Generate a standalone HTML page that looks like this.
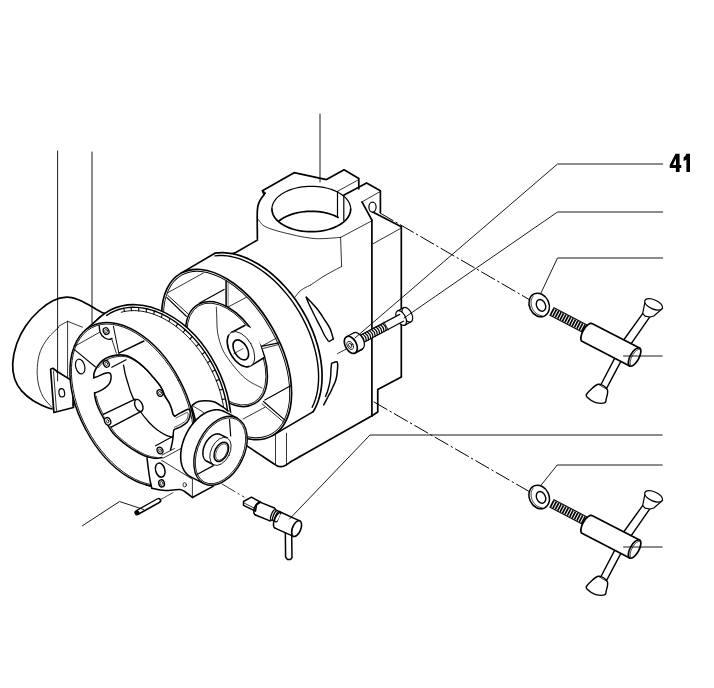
<!DOCTYPE html>
<html><head><meta charset="utf-8"><style>
html,body{margin:0;padding:0;background:#fff;width:714px;height:688px;overflow:hidden}
svg{display:block}

</style></head><body>
<svg width="714" height="688" viewBox="0 0 714 688" stroke-linecap="round" stroke-linejoin="round">
<rect width="714" height="688" fill="#fff"/>
<path d="M262.4,190.7 L294.1,172.7 L326.5,179.6 L344.1,169.8 L358.8,178.6 L358.8,188.8" stroke="#000" stroke-width="1.7" fill="none" />
<line x1="337.5" y1="191.3" x2="358.8" y2="179.6" stroke="#000" stroke-width="0.8" />
<line x1="337.5" y1="191.3" x2="337.5" y2="217.2" stroke="#000" stroke-width="1.2" />
<line x1="343.8" y1="196.4" x2="343.8" y2="220.3" stroke="#000" stroke-width="1.2" />
<path d="M343.7,195.3 L366.6,182.9 L380.4,190.7 L380.4,212.3" stroke="#000" stroke-width="1.7" fill="none" />
<line x1="362" y1="201.9" x2="380.4" y2="191.4" stroke="#000" stroke-width="0.8" />
<line x1="362" y1="201.9" x2="371.9" y2="220.2" stroke="#000" stroke-width="1.7" />
<ellipse cx="372.5" cy="207.1" rx="3.6" ry="5" stroke="#000" stroke-width="1.2" fill="none" />
<path d="M271.9,209 L272.02,207.22 L272.39,205.45 L272.99,203.7 L273.83,201.99 L274.9,200.31 L276.19,198.69 L277.71,197.14 L279.42,195.66 L281.34,194.26 L283.44,192.95 L285.71,191.74 L288.14,190.64 L290.71,189.65 L293.41,188.77 L296.22,188.03 L299.12,187.41 L302.1,186.93 L305.14,186.58 L308.21,186.37 L311.3,186.3 L314.39,186.37 L317.46,186.58 L320.5,186.93 L323.48,187.41 L326.38,188.03 L329.19,188.77 L331.89,189.65 L334.46,190.64 L336.89,191.74 L339.16,192.95 L341.26,194.26 L343.18,195.66 L344.89,197.14 L346.41,198.69 L347.7,200.31 L348.77,201.99 L349.61,203.7 L350.21,205.45 L350.58,207.22 L350.7,209" stroke="#000" stroke-width="1.2" fill="none" />
<path d="M350.7,209 L350.58,210.78 L350.21,212.55 L349.61,214.3 L348.77,216.01 L347.7,217.69 L346.41,219.31 L344.89,220.86 L343.18,222.34 L341.26,223.74 L339.16,225.05 L336.89,226.26 L334.46,227.36 L331.89,228.35 L329.19,229.23 L326.38,229.97 L323.48,230.59 L320.5,231.07 L317.46,231.42 L314.39,231.63 L311.3,231.7 L308.21,231.63 L305.14,231.42 L302.1,231.07 L299.12,230.59 L296.22,229.97 L293.41,229.23 L290.71,228.35 L288.14,227.36 L285.71,226.26 L283.44,225.05 L281.34,223.74 L279.42,222.34 L277.71,220.86 L276.19,219.31 L274.9,217.69 L273.83,216.01 L272.99,214.3 L272.39,212.55 L272.02,210.78 L271.9,209" stroke="#000" stroke-width="1.7" fill="none" />
<path d="M278.64,221.31 L279.62,220.51 L280.66,219.73 L281.76,218.98 L282.91,218.26 L284.12,217.57 L285.37,216.91 L286.68,216.28 L288.03,215.68 L289.42,215.12 L290.86,214.59 L292.33,214.1 L293.84,213.65 L295.38,213.23 L296.96,212.86 L298.55,212.52 L300.18,212.22 L301.82,211.97 L303.48,211.75 L305.15,211.58 L306.84,211.45 L308.53,211.36 L310.23,211.31 L311.94,211.3 L313.64,211.34 L315.33,211.42 L317.02,211.54 L318.7,211.7 L320.36,211.91 L322.01,212.15 L323.64,212.44 L325.24,212.77 L326.82,213.14 L328.37,213.54 L329.89,213.99 L331.37,214.47 L332.82,214.98 L334.22,215.54 L335.58,216.12 L336.9,216.75 L338.17,217.4" stroke="#000" stroke-width="1.7" fill="none" />
<path d="M262.4,190.7 L265.7,192.9 L264,195.3 Z" stroke="#000" stroke-width="1" fill="#000" />
<path d="M263.6,195.3 C263.08,196.03 261.38,198.17 260.5,199.7 C259.62,201.23 258.82,202.78 258.3,204.5 C257.78,206.22 257.58,207.42 257.4,210 C257.22,212.58 257.2,215.27 257.2,220 C257.2,224.73 257.37,235.33 257.4,238.4" stroke="#000" stroke-width="1.7" fill="none" />
<path d="M257.5,240 L235.75,252.5 L230.5,254" stroke="#000" stroke-width="1.7" fill="none" />
<path d="M258,219 C259.33,220.33 260.63,224.47 266,227 C271.37,229.53 281.97,232.27 290.2,234.2 C298.43,236.13 307,238.07 315.4,238.6 C323.8,239.13 336.4,237.6 340.6,237.4" stroke="#000" stroke-width="0.8" fill="none" />
<line x1="340.6" y1="237.4" x2="371.9" y2="220.8" stroke="#000" stroke-width="0.8" />
<line x1="340.6" y1="237.4" x2="341.6" y2="266.5" stroke="#000" stroke-width="0.8" />
<path d="M341.6,266.5 C338.83,268 330.15,272.42 325,275.5 C319.85,278.58 313.08,283.42 310.7,285" stroke="#000" stroke-width="0.8" fill="none" />
<line x1="373.2" y1="212.3" x2="401.3" y2="226.7" stroke="#000" stroke-width="1.7" />
<line x1="371.9" y1="220.2" x2="371.9" y2="415.75" stroke="#000" stroke-width="1.7" />
<line x1="401.3" y1="226.7" x2="401.3" y2="377" stroke="#000" stroke-width="1.7" />
<line x1="373.2" y1="243.7" x2="401.3" y2="228" stroke="#000" stroke-width="0.8" />
<path d="M401.3,377 L377.75,389.5 L377.75,412 L372,415.75" stroke="#000" stroke-width="1.7" fill="none" />
<path d="M245,444.6 C247.5,446.27 254.98,451.27 260,454.6 C265.02,457.93 271.98,462.63 275.1,464.6 C278.22,466.57 277.18,466.17 278.7,466.4 C280.22,466.63 281.98,466.9 284.2,466 C286.42,465.1 289.37,462.6 292,461 C294.63,459.4 298.67,457.17 300,456.4" stroke="#000" stroke-width="1.7" fill="none" />
<line x1="300" y1="456.4" x2="372" y2="415.75" stroke="#000" stroke-width="1.7" />
<line x1="275.5" y1="434.6" x2="275.5" y2="464.6" stroke="#000" stroke-width="0.8" />
<line x1="286.5" y1="433.2" x2="286.5" y2="465.5" stroke="#000" stroke-width="0.8" />
<path d="M306.3,297.2 C307.08,298 309.38,300.27 311,302 C312.62,303.73 314.42,305.68 316,307.6 C317.58,309.52 319.07,311.47 320.5,313.5 C321.93,315.53 323.35,317.88 324.6,319.8 C325.85,321.72 326.98,323.25 328,325 C329.02,326.75 329.82,327.97 330.7,330.3 C331.58,332.63 332.87,337.55 333.3,339" stroke="#000" stroke-width="1.5" fill="none" />
<path d="M306.3,297.2 C306.58,298 307.27,300.27 308,302 C308.73,303.73 309.7,305.52 310.7,307.6 C311.7,309.68 312.85,312.17 314,314.5 C315.15,316.83 316.35,319.18 317.6,321.6 C318.85,324.02 320.33,326.68 321.5,329 C322.67,331.32 323.5,333.55 324.6,335.5 C325.7,337.45 327.52,339.83 328.1,340.7" stroke="#000" stroke-width="1.4" fill="none" />
<line x1="333.3" y1="339" x2="329" y2="341.6" stroke="#000" stroke-width="1.4" />
<path d="M331.6,363.4 C332.47,363.12 335.78,361.42 336.8,361.7 C337.82,361.98 337.6,363.72 337.7,365.1 C337.8,366.48 337.55,368.25 337.4,370 C337.25,371.75 337.12,373.77 336.8,375.6 C336.48,377.43 336.08,379.27 335.5,381 C334.92,382.73 334.08,384.25 333.3,386 C332.52,387.75 331.67,389.75 330.8,391.5 C329.93,393.25 329.28,394.27 328.1,396.5 C326.92,398.73 324.43,403.5 323.7,404.9" stroke="#000" stroke-width="1.5" fill="none" />
<path d="M331.6,363.4 C331.5,364.33 331.15,366.97 331,369 C330.85,371.03 330.87,373.6 330.7,375.6 C330.53,377.6 330.28,379.27 330,381 C329.72,382.73 329.42,384.25 329,386 C328.58,387.75 328.08,389.75 327.5,391.5 C326.92,393.25 325.83,395.67 325.5,396.5" stroke="#000" stroke-width="1.4" fill="none" />
<path d="M295,297.2 C295.67,296.33 297.55,293.45 299,292 C300.45,290.55 301.75,289.67 303.7,288.5 C305.65,287.33 309.53,285.58 310.7,285" stroke="#000" stroke-width="0.8" fill="none" />
<ellipse cx="249.6" cy="342.1" rx="61.6" ry="97.2" transform="rotate(-30.5 249.6 342.1)" stroke="none" stroke-width="0" fill="#fff" />
<path d="M180.71,273.38 L214.94,253.22 L313.2,411.64 L272.49,435.62 Z" stroke="none" stroke-width="0" fill="#fff" />
<path d="M214.94,253.22 L217,252.96 L219.1,252.79 L221.22,252.71 L223.38,252.72 L225.56,252.83 L227.77,253.03 L230,253.32 L232.25,253.71 L234.52,254.18 L236.8,254.74 L239.1,255.4 L241.4,256.14 L243.72,256.98 L246.04,257.9 L248.37,258.9 L250.7,260 L253.02,261.17 L255.34,262.44 L257.66,263.78 L259.97,265.2 L262.27,266.71 L264.55,268.29 L266.82,269.94 L269.07,271.68 L271.3,273.48 L273.51,275.36 L275.69,277.3 L277.85,279.31 L279.98,281.39 L282.08,283.53 L284.14,285.72 L286.17,287.98 L288.16,290.29 L290.11,292.66 L292.02,295.08 L293.88,297.54 L295.7,300.05 L297.47,302.61 L299.19,305.2 L300.86,307.84 L302.48,310.51 L304.04,313.21 L305.55,315.94 L307,318.7 L308.39,321.48 L309.72,324.28 L310.99,327.1 L312.19,329.94 L313.33,332.79 L314.41,335.65 L315.42,338.52 L316.36,341.39 L317.23,344.26 L318.03,347.13 L318.76,349.99 L319.42,352.85 L320,355.69 L320.52,358.52 L320.96,361.33 L321.33,364.13 L321.62,366.9 L321.84,369.64 L321.98,372.36 L322.06,375.04 L322.05,377.7 L321.97,380.31 L321.82,382.89 L321.59,385.42 L321.29,387.91 L320.91,390.35 L320.46,392.74 L319.94,395.08 L319.34,397.36 L318.67,399.59 L317.94,401.76 L317.13,403.87 L316.25,405.91 L315.3,407.89 L314.28,409.8 L313.2,411.64" stroke="#000" stroke-width="1.7" fill="none" />
<line x1="180.71" y1="273.38" x2="214.94" y2="253.22" stroke="#000" stroke-width="1.7" />
<line x1="272.49" y1="435.62" x2="313.2" y2="411.64" stroke="#000" stroke-width="1.7" />
<ellipse cx="226.6" cy="354.5" rx="52.9" ry="93.2" transform="rotate(-29.5 226.6 354.5)" stroke="#000" stroke-width="1.7" fill="#fff" />
<path d="M214.97,255.83 L218.9,255.51 L222.94,255.52 L227.08,255.87 L231.3,256.56 L235.59,257.59 L239.92,258.95 L244.29,260.63 L248.68,262.63 L253.06,264.95 L257.43,267.56 L261.76,270.47 L266.03,273.66 L270.24,277.12 L274.37,280.84 L278.39,284.79 L282.29,288.97 L286.06,293.36 L289.69,297.94 L293.15,302.7 L296.44,307.61 L299.54,312.66 L302.45,317.82 L305.14,323.09 L307.61,328.42 L309.85,333.82 L311.85,339.25 L313.6,344.69 L315.1,350.12 L316.34,355.53 L317.31,360.88 L318.02,366.17 L318.45,371.36 L318.61,376.44 L318.5,381.39 L318.12,386.19 L317.46,390.82 L316.53,395.26 L315.34,399.5 L313.89,403.52 L312.18,407.3" stroke="#000" stroke-width="1.4" fill="none" />
<ellipse cx="226.6" cy="354.5" rx="50.9" ry="91.2" transform="rotate(-29.5 226.6 354.5)" stroke="#000" stroke-width="0.9" fill="#fff" />
<line x1="226.1" y1="281" x2="226.1" y2="306" stroke="#000" stroke-width="1.5" />
<line x1="228.1" y1="281.5" x2="228.1" y2="306.5" stroke="#555" stroke-width="0.8" />
<line x1="199.2" y1="303.2" x2="224.1" y2="289.4" stroke="#000" stroke-width="1.2" />
<line x1="167.8" y1="292.7" x2="203.2" y2="273.1" stroke="#000" stroke-width="0.8" />
<line x1="166.7" y1="297.4" x2="186.3" y2="316.3" stroke="#000" stroke-width="1.2" />
<line x1="167.8" y1="295.4" x2="188" y2="313.8" stroke="#000" stroke-width="0.9" />
<line x1="228" y1="307.1" x2="246.3" y2="297.3" stroke="#000" stroke-width="0.8" />
<line x1="261.4" y1="346.3" x2="278.8" y2="342.8" stroke="#000" stroke-width="1.2" />
<line x1="262.6" y1="348.6" x2="278.8" y2="344.5" stroke="#000" stroke-width="0.8" />
<line x1="261.4" y1="346.3" x2="276.5" y2="338.1" stroke="#000" stroke-width="0.8" />
<line x1="263.4" y1="401.5" x2="285.2" y2="420.4" stroke="#000" stroke-width="1.2" />
<line x1="262" y1="403.7" x2="283.8" y2="422.2" stroke="#000" stroke-width="0.8" />
<line x1="264.9" y1="400" x2="291" y2="385.5" stroke="#000" stroke-width="1.2" />
<line x1="243.1" y1="419" x2="264.9" y2="407.3" stroke="#000" stroke-width="0.8" />
<ellipse cx="226.45" cy="354.05" rx="34.2" ry="57.1" transform="rotate(-29.6 226.45 354.05)" stroke="#000" stroke-width="1.5" fill="#fff" />
<ellipse cx="226.45" cy="354.05" rx="32.7" ry="55.6" transform="rotate(-29.6 226.45 354.05)" stroke="#000" stroke-width="0.8" fill="none" />
<path d="M216.3,307.1 C216.37,308.42 216.48,310.77 216.7,315 C216.92,319.23 216.72,326.97 217.6,332.5 C218.48,338.03 220.25,343.85 222,348.2 C223.75,352.55 225.48,354.83 228.1,358.6 C230.72,362.37 234.38,367.15 237.7,370.8 C241.02,374.45 243.95,377.63 248,380.5 C252.05,383.37 259.67,386.75 262,388" stroke="#000" stroke-width="0.8" fill="none" />
<path d="M231.35,332.5 L244.7,325.5 L256,330 L263.9,357.8 L250.65,365.9 Z" stroke="none" stroke-width="0" fill="#fff" />
<line x1="231.35" y1="332.5" x2="244.7" y2="325.5" stroke="#000" stroke-width="1.6" />
<line x1="250.65" y1="365.9" x2="263.9" y2="357.8" stroke="#000" stroke-width="1.6" />
<ellipse cx="241" cy="349.2" rx="11.3" ry="19.3" transform="rotate(-30 241 349.2)" stroke="#000" stroke-width="0.8" fill="#fff" />
<path d="M248.8,366.64 L248.05,366.78 L247.26,366.84 L246.45,366.83 L245.61,366.74 L244.75,366.57 L243.88,366.33 L243,366.02 L242.1,365.64 L241.2,365.18 L240.3,364.66 L239.41,364.07 L238.52,363.42 L237.64,362.7 L236.78,361.93 L235.93,361.1 L235.1,360.23 L234.31,359.3 L233.53,358.33 L232.8,357.33 L232.09,356.29 L231.43,355.21 L230.8,354.12 L230.22,353 L229.69,351.86 L229.2,350.72 L228.77,349.56 L228.38,348.41 L228.05,347.26 L227.78,346.11 L227.56,344.98 L227.4,343.87 L227.3,342.78 L227.26,341.72 L227.27,340.69 L227.35,339.7 L227.48,338.75 L227.67,337.84 L227.92,336.98 L228.23,336.18 L228.58,335.43" stroke="#000" stroke-width="1.6" fill="none" />
<ellipse cx="240.8" cy="349.9" rx="6.5" ry="10.9" transform="rotate(-30 240.8 349.9)" stroke="#000" stroke-width="1.6" fill="none" />
<line x1="233.8" y1="353.8" x2="242.9" y2="348.6" stroke="#000" stroke-width="0.7" />
<path d="M66.7,297.2 L110,314.4 L112,420 L53.9,412.5 L20,395 L12,360 L30,318 Z" stroke="none" stroke-width="0" fill="#fff" />
<path d="M109.8,314.4 C108.5,314.08 105.6,314.13 102,312.5 C98.4,310.87 92.13,306.73 88.2,304.6 C84.27,302.47 81.98,300.93 78.4,299.7 C74.82,298.47 70.95,297.03 66.7,297.2 C62.45,297.37 57.48,298.48 52.9,300.7 C48.32,302.92 43.77,306.25 39.2,310.5 C34.63,314.75 29.25,320.65 25.5,326.2 C21.75,331.75 18.83,337.6 16.7,343.8 C14.57,350 13.03,357.52 12.7,363.4 C12.37,369.28 13.22,374.52 14.7,379.1 C16.18,383.68 18.5,387.3 21.6,390.9 C24.7,394.5 29.05,397.93 33.3,400.7 C37.55,403.47 43.98,406.13 47.1,407.5 C50.22,408.87 51.18,408.67 52,408.9" stroke="#000" stroke-width="1.7" fill="none" />
<path d="M58.8,327.2 C57,329 51.1,333.92 48,338 C44.9,342.08 41.98,346.8 40.2,351.7 C38.42,356.6 37.63,362.18 37.3,367.4 C36.97,372.62 37.23,378.1 38.2,383 C39.17,387.9 40.8,392.72 43.1,396.8 C45.4,400.88 50.52,405.72 52,407.5" stroke="#000" stroke-width="0.8" fill="none" />
<path d="M58.8,326.2 L67.6,321.3 L82.4,327.2" stroke="#000" stroke-width="0.8" fill="none" />
<line x1="67.6" y1="321.3" x2="67.6" y2="377.2" stroke="#000" stroke-width="0.8" />
<path d="M50.6,369.3 L52.9,368.3 L56.9,371.3 L72.5,381.1 L74.5,387 L73.5,407.5 L53.9,412.5 Z" stroke="#000" stroke-width="1.7" fill="#fff" />
<line x1="53.5" y1="371" x2="56.5" y2="410.5" stroke="#000" stroke-width="0.8" />
<path d="M56.9,371.3 L56.9,372.5" stroke="#000" stroke-width="0.8" fill="none" />
<line x1="72.5" y1="381.1" x2="72.5" y2="406" stroke="#000" stroke-width="0.8" />
<ellipse cx="61.8" cy="392.8" rx="2.8" ry="4.2" transform="rotate(-10 61.8 392.8)" stroke="#000" stroke-width="1.2" fill="none" />
<ellipse cx="155.05" cy="397.73" rx="68.87" ry="98.38" transform="rotate(-27 155.05 397.73)" stroke="#000" stroke-width="1.6" fill="#fff" />
<path d="M146.46,485.04 L160.76,488.73 L100.09,317.12 L84.68,330.8 Z" stroke="none" stroke-width="0" fill="#fff" />
<line x1="146.46" y1="485.04" x2="160.76" y2="488.73" stroke="#000" stroke-width="1.6" />
<line x1="84.68" y1="330.8" x2="100.09" y2="317.12" stroke="#000" stroke-width="1.6" />
<ellipse cx="132.56" cy="404.55" rx="53.07" ry="88.51" transform="rotate(-28.02 132.56 404.55)" stroke="#000" stroke-width="1.5" fill="#fff" />
<path d="M106.59,315.34 L110.42,313 L114.45,311.04 L118.67,309.49 L123.06,308.34 L127.59,307.59 L132.25,307.26 L137.01,307.34 L141.85,307.84 L146.76,308.74 L151.7,310.06 L156.66,311.77 L161.61,313.88 L166.53,316.37 L171.4,319.23 L176.19,322.45 L180.89,326.02 L185.47,329.91 L189.91,334.11 L194.19,338.61 L198.29,343.37 L202.19,348.39 L205.88,353.63 L209.34,359.07 L212.54,364.68 L215.49,370.45 L218.16,376.35 L220.54,382.34 L222.62,388.4 L224.39,394.5 L225.84,400.62 L226.97,406.73 L227.77,412.79 L228.24,418.79 L228.38,424.68 L228.18,430.46 L227.64,436.09 L226.78,441.54 L225.58,446.79 L224.06,451.82 L222.23,456.59" stroke="#000" stroke-width="1.4" fill="none" />
<path d="M121.31,312.25 L124.4,311.52 L127.57,311 L130.8,310.7 L134.1,310.61 L137.44,310.74 L140.83,311.08 L144.26,311.64 L147.71,312.41 L151.18,313.4 L154.66,314.59 L158.14,315.98 L161.61,317.58 L165.07,319.38 L168.5,321.37 L171.89,323.55 L175.25,325.91 L178.56,328.45 L181.8,331.16 L184.99,334.04 L188.09,337.08 L191.12,340.26 L194.06,343.59 L196.9,347.05 L199.64,350.63 L202.26,354.34 L204.77,358.15 L207.16,362.05 L209.42,366.05 L211.54,370.12 L213.52,374.27 L215.36,378.47 L217.05,382.71 L218.59,387 L219.97,391.31 L221.19,395.64 L222.24,399.97 L223.13,404.3 L223.85,408.61 L224.4,412.9 L224.78,417.14" stroke="#000" stroke-width="0.9" fill="none" />
<line x1="123.63" y1="308.22" x2="124.57" y2="311.48" stroke="#000" stroke-width="1.1" />
<line x1="130.97" y1="307.31" x2="131.55" y2="310.66" stroke="#000" stroke-width="1.1" />
<line x1="138.59" y1="307.46" x2="138.81" y2="310.85" stroke="#000" stroke-width="1.1" />
<line x1="146.41" y1="308.67" x2="146.25" y2="312.06" stroke="#000" stroke-width="1.1" />
<line x1="154.32" y1="310.91" x2="153.8" y2="314.27" stroke="#000" stroke-width="1.1" />
<line x1="162.25" y1="314.18" x2="161.37" y2="317.46" stroke="#000" stroke-width="1.1" />
<line x1="170.09" y1="318.42" x2="168.86" y2="321.59" stroke="#000" stroke-width="1.1" />
<line x1="177.75" y1="323.59" x2="176.18" y2="326.61" stroke="#000" stroke-width="1.1" />
<line x1="185.15" y1="329.62" x2="183.26" y2="332.46" stroke="#000" stroke-width="1.1" />
<line x1="192.19" y1="336.46" x2="190.02" y2="339.07" stroke="#000" stroke-width="1.1" />
<line x1="198.8" y1="344.01" x2="196.36" y2="346.37" stroke="#000" stroke-width="1.1" />
<line x1="204.9" y1="352.19" x2="202.22" y2="354.27" stroke="#000" stroke-width="1.1" />
<line x1="210.42" y1="360.9" x2="207.52" y2="362.68" stroke="#000" stroke-width="1.1" />
<line x1="215.29" y1="370.04" x2="212.22" y2="371.5" stroke="#000" stroke-width="1.1" />
<line x1="219.45" y1="379.5" x2="216.24" y2="380.62" stroke="#000" stroke-width="1.1" />
<line x1="222.86" y1="389.18" x2="219.55" y2="389.95" stroke="#000" stroke-width="1.1" />
<line x1="225.48" y1="398.96" x2="222.1" y2="399.37" stroke="#000" stroke-width="1.1" />
<ellipse cx="132.56" cy="404.55" rx="51.57" ry="87.01" transform="rotate(-28.02 132.56 404.55)" stroke="#000" stroke-width="0.8" fill="none" />
<line x1="74.7" y1="346.3" x2="99.2" y2="332.5" stroke="#000" stroke-width="0.8" />
<line x1="74.5" y1="349.7" x2="95.5" y2="367" stroke="#000" stroke-width="1.1" />
<ellipse cx="80.2" cy="366.5" rx="4.5" ry="7.5" transform="rotate(-15 80.2 366.5)" stroke="#000" stroke-width="1.2" fill="none" />
<path d="M99.2,325.7 C99.37,326.83 99.38,330.53 100.2,332.5 C101.02,334.47 102.63,336.35 104.1,337.5 C105.57,338.65 107.68,339.25 109,339.4 C110.32,339.55 111.5,338.57 112,338.4" stroke="#000" stroke-width="1.4" fill="none" />
<ellipse cx="106.1" cy="331.1" rx="2.8" ry="3.4" transform="rotate(-25 106.1 331.1)" stroke="#000" stroke-width="1.3" fill="none" />
<ellipse cx="106.1" cy="331.1" rx="1.3" ry="1.7" transform="rotate(-25 106.1 331.1)" stroke="#000" stroke-width="0.7" fill="none" />
<line x1="113.4" y1="326.2" x2="118.8" y2="353.1" stroke="#000" stroke-width="1" />
<line x1="111.6" y1="338.5" x2="116.4" y2="353.5" stroke="#000" stroke-width="0.8" />
<line x1="118.8" y1="353.1" x2="143.9" y2="341" stroke="#000" stroke-width="1.4" />
<path d="M93.8,377.8 C93.87,376.95 93.57,374.67 94.2,372.7 C94.83,370.73 96.2,368.03 97.6,366 C99,363.97 100.65,362.03 102.6,360.5 C104.55,358.97 106.92,357.7 109.3,356.8 C111.68,355.9 114.52,355.38 116.9,355.1 C119.28,354.82 121.37,354.75 123.6,355.1 C125.83,355.45 127.78,355.95 130.3,357.2 C132.82,358.45 135.9,360.43 138.7,362.6 C141.5,364.77 144.72,367.8 147.1,370.2 C149.48,372.6 151.03,374.7 153,377 C154.97,379.3 157.32,381.83 158.9,384 C160.48,386.17 161.58,388.13 162.5,390 C163.42,391.87 163.35,393.17 164.4,395.2 C165.45,397.23 167.63,400.02 168.8,402.2 C169.97,404.38 170.68,406.27 171.4,408.3 C172.12,410.33 172.52,413.08 173.1,414.4 C173.68,415.72 174.6,415.9 174.9,416.2" stroke="#000" stroke-width="1.6" fill="none" />
<path d="M98.5,367.5 C99.33,366.58 101.55,363.53 103.5,362 C105.45,360.47 107.82,359.2 110.2,358.3 C112.58,357.4 115.42,356.88 117.8,356.6 C120.18,356.32 122.27,356.25 124.5,356.6 C126.73,356.95 128.68,357.45 131.2,358.7 C133.72,359.95 136.8,361.93 139.6,364.1 C142.4,366.27 145.62,369.3 148,371.7 C150.38,374.1 151.93,376.2 153.9,378.5 C155.87,380.8 158.22,383.33 159.8,385.5 C161.38,387.67 162.48,389.63 163.4,391.5 C164.32,393.37 164.25,394.67 165.3,396.7 C166.35,398.73 168.97,402.53 169.7,403.7" stroke="#000" stroke-width="0.8" fill="none" />
<path d="M93.8,377.8 C94.57,377.52 96.52,376.87 98.4,376.1 C100.28,375.33 103.42,373.77 105.1,373.2 C106.78,372.63 107.58,372.57 108.5,372.7 C109.42,372.83 110.18,373.02 110.6,374 C111.02,374.98 111.22,376.98 111,378.6 C110.78,380.22 110.28,382.15 109.3,383.7 C108.32,385.25 106.92,386.58 105.1,387.9 C103.28,389.22 100.15,390.77 98.4,391.6 C96.65,392.43 95.23,392.68 94.6,392.9" stroke="#000" stroke-width="1.5" fill="none" />
<path d="M174.9,416.2 C175.92,415.62 178.82,413.87 181,412.7 C183.18,411.53 186.48,409.5 188,409.2 C189.52,408.9 189.82,409.6 190.1,410.9 C190.38,412.2 190.2,415.1 189.7,417 C189.2,418.9 188.55,420.7 187.1,422.3 C185.65,423.9 183.03,425.45 181,426.6 C178.97,427.75 176.13,428.47 174.9,429.2 C173.67,429.93 173.9,429.83 173.6,431 C173.3,432.17 173.32,434.32 173.1,436.2 C172.88,438.08 172.73,440 172.3,442.3 C171.87,444.6 170.8,448.72 170.5,450" stroke="#000" stroke-width="1.5" fill="none" />
<path d="M176,418 C177,417.5 180.08,415.92 182,415 C183.92,414.08 186.53,412.17 187.5,412.5 C188.47,412.83 188.13,415.58 187.8,417 C187.47,418.42 186.8,419.73 185.5,421 C184.2,422.27 181.83,423.57 180,424.6 C178.17,425.63 175.42,426.77 174.5,427.2" stroke="#000" stroke-width="0.7" fill="none" />
<path d="M94.6,392.9 C94.67,393.6 94.63,395.25 95,397.1 C95.37,398.95 95.88,401.43 96.8,404 C97.72,406.57 99.17,409.83 100.5,412.5 C101.83,415.17 102.75,416.62 104.8,420 C106.85,423.38 110.27,429.5 112.8,432.8 C115.33,436.1 117.6,437.67 120,439.8 C122.4,441.93 124.7,443.77 127.2,445.6 C129.7,447.43 132.33,449.2 135,450.8 C137.67,452.4 140.7,454.08 143.2,455.2 C145.7,456.32 147.87,456.97 150,457.5 C152.13,458.03 154,458.4 156,458.4 C158,458.4 161,457.65 162,457.5" stroke="#000" stroke-width="1.6" fill="none" />
<path d="M96.3,396.2 C96.6,397.35 97.18,400.53 98.1,403.1 C99.02,405.67 100.47,408.93 101.8,411.6 C103.13,414.27 104.05,415.72 106.1,419.1 C108.15,422.48 111.57,428.6 114.1,431.9 C116.63,435.2 118.9,436.77 121.3,438.9 C123.7,441.03 126,442.87 128.5,444.7 C131,446.53 133.63,448.3 136.3,449.9 C138.97,451.5 142,453.18 144.5,454.3 C147,455.42 149.17,456.07 151.3,456.6 C153.43,457.13 156.3,457.35 157.3,457.5" stroke="#000" stroke-width="0.8" fill="none" />
<path d="M123.6,365.2 C123.88,366.73 124.6,371.47 125.3,374.4 C126,377.33 126.88,379.78 127.8,382.8 C128.72,385.82 129.6,389.3 130.8,392.5 C132,395.7 133.47,398.92 135,402 C136.53,405.08 137.72,407.67 140,411 C142.28,414.33 145.8,418.83 148.7,422 C151.6,425.17 154.48,427.78 157.4,430 C160.32,432.22 163.72,434.12 166.2,435.3 C168.68,436.48 171.28,436.8 172.3,437.1" stroke="#000" stroke-width="1.3" fill="none" />
<line x1="111.8" y1="367.3" x2="126.1" y2="359.7" stroke="#000" stroke-width="1.2" />
<ellipse cx="106.4" cy="363.9" rx="2.8" ry="3.4" transform="rotate(-25 106.4 363.9)" stroke="#000" stroke-width="1.3" fill="#fff" />
<ellipse cx="106.4" cy="363.9" rx="1.3" ry="1.7" transform="rotate(-25 106.4 363.9)" stroke="#000" stroke-width="0.7" fill="none" />
<ellipse cx="160" cy="393" rx="2.8" ry="3.4" transform="rotate(-25 160 393)" stroke="#000" stroke-width="1.3" fill="#fff" />
<ellipse cx="160" cy="393" rx="1.3" ry="1.7" transform="rotate(-25 160 393)" stroke="#000" stroke-width="0.7" fill="none" />
<ellipse cx="160" cy="450.5" rx="2.8" ry="3.4" transform="rotate(-25 160 450.5)" stroke="#000" stroke-width="1.3" fill="#fff" />
<ellipse cx="160" cy="450.5" rx="1.3" ry="1.7" transform="rotate(-25 160 450.5)" stroke="#000" stroke-width="0.7" fill="none" />
<path d="M103.2,414.4 L135.2,399.2 L141.6,411.2 L111.2,427.2 Z" stroke="none" stroke-width="0" fill="#fff" />
<line x1="103.2" y1="414.4" x2="135.2" y2="399.2" stroke="#000" stroke-width="1.4" />
<line x1="111.2" y1="427.2" x2="141.6" y2="411.2" stroke="#000" stroke-width="1.4" />
<ellipse cx="138.8" cy="405.4" rx="3.6" ry="6.4" transform="rotate(-25 138.8 405.4)" stroke="#000" stroke-width="1.4" fill="#fff" />
<ellipse cx="107.6" cy="421.3" rx="3" ry="3.8" transform="rotate(-25 107.6 421.3)" stroke="#000" stroke-width="1.3" fill="#fff" />
<ellipse cx="107.6" cy="421.3" rx="1.3" ry="1.7" transform="rotate(-25 107.6 421.3)" stroke="#000" stroke-width="0.7" fill="none" />
<line x1="155.7" y1="445.8" x2="173.1" y2="436.2" stroke="#000" stroke-width="1.2" />
<line x1="162" y1="455" x2="174.5" y2="448.5" stroke="#000" stroke-width="0.8" />
<path d="M147,458 L161.6,460.3 L181.2,448.4 L213.4,467 L213.4,486.2 L192.4,498.1 L151.8,488.3 Z" stroke="none" stroke-width="0" fill="#fff" />
<path d="M147,458 C147.25,460 148,466.33 148.5,470 C149,473.67 149.45,476.95 150,480 C150.55,483.05 151.5,486.92 151.8,488.3" stroke="#000" stroke-width="1.5" fill="none" />
<path d="M151.8,488.3 C154,488.67 160.33,490.3 165,490.5 C169.67,490.7 176.3,489.17 179.8,489.5 C183.3,489.83 183.9,491.17 186,492.5 C188.1,493.83 191.33,496.67 192.4,497.5" stroke="#000" stroke-width="1.5" fill="none" />
<line x1="192.4" y1="497.5" x2="213.4" y2="486.2" stroke="#000" stroke-width="1.5" />
<line x1="192.4" y1="479.2" x2="192.4" y2="497.5" stroke="#000" stroke-width="0.8" />
<line x1="161.6" y1="460.3" x2="192.4" y2="479.2" stroke="#000" stroke-width="0.8" />
<line x1="163" y1="458.2" x2="181.2" y2="448.4" stroke="#000" stroke-width="0.8" />
<ellipse cx="160.2" cy="470.1" rx="4.6" ry="7.2" transform="rotate(-15 160.2 470.1)" stroke="#000" stroke-width="1.5" fill="none" />
<ellipse cx="161.6" cy="483.4" rx="2.8" ry="3.6" transform="rotate(-15 161.6 483.4)" stroke="#000" stroke-width="1.4" fill="none" />
<ellipse cx="161.6" cy="483.4" rx="1.4" ry="2" transform="rotate(-15 161.6 483.4)" stroke="#000" stroke-width="0.7" fill="none" />
<ellipse cx="184.7" cy="484.8" rx="1.7" ry="2.1" stroke="#000" stroke-width="0.8" fill="none" />
<path d="M195.5,422 C194.47,417.67 194.45,416.58 193.8,414 C193.15,411.42 191.57,408.17 191.6,406.5 C191.63,404.83 192.85,404.82 194,404 C195.15,403.18 196.7,402.15 198.5,401.6 C200.3,401.05 202.25,400.67 204.8,400.7 C207.35,400.73 210.82,400.77 213.8,401.8 C216.78,402.83 220.33,405.37 222.7,406.9 C225.07,408.43 226.45,409.15 228,411 C229.55,412.85 234.17,413.17 232,418 C229.83,422.83 220.33,436.33 215,440 C209.67,443.67 203.25,443 200,440 C196.75,437 196.53,426.33 195.5,422 Z" stroke="none" stroke-width="0" fill="#fff" />
<path d="M195.5,421 C195.22,419.83 194.42,416.42 193.8,414 C193.18,411.58 191.77,408.17 191.8,406.5 C191.83,404.83 192.88,404.82 194,404 C195.12,403.18 196.7,402.15 198.5,401.6 C200.3,401.05 202.25,400.67 204.8,400.7 C207.35,400.73 210.82,400.77 213.8,401.8 C216.78,402.83 220.33,405.37 222.7,406.9 C225.07,408.43 227.12,410.32 228,411" stroke="#000" stroke-width="1.6" fill="none" />
<line x1="192.5" y1="405.6" x2="203.7" y2="412.5" stroke="#000" stroke-width="0.8" />
<ellipse cx="207.4" cy="444.2" rx="23.5" ry="36.7" transform="rotate(26.8 207.4 444.2)" stroke="none" stroke-width="0" fill="#fff" />
<path d="M237.05,418.04 L223.95,411.44 L190.25,476.64 L203.95,483.56 Z" stroke="none" stroke-width="0" fill="#fff" />
<path d="M190.25,476.64 L189.47,476.16 L188.71,475.64 L187.98,475.07 L187.28,474.46 L186.61,473.79 L185.98,473.09 L185.37,472.34 L184.8,471.54 L184.26,470.71 L183.76,469.83 L183.3,468.92 L182.87,467.97 L182.47,466.98 L182.12,465.96 L181.8,464.91 L181.52,463.82 L181.28,462.71 L181.08,461.56 L180.92,460.39 L180.81,459.2 L180.73,457.98 L180.69,456.75 L180.69,455.49 L180.73,454.22 L180.81,452.93 L180.94,451.63 L181.1,450.31 L181.3,448.99 L181.54,447.66 L181.82,446.32 L182.14,444.99 L182.5,443.65 L182.9,442.31 L183.33,440.97 L183.8,439.64 L184.31,438.32 L184.85,437 L185.42,435.7 L186.03,434.41 L186.67,433.13 L187.34,431.87 L188.04,430.63 L188.77,429.41 L189.53,428.21 L190.31,427.04 L191.13,425.89 L191.96,424.77 L192.82,423.68 L193.7,422.62 L194.61,421.59 L195.53,420.6 L196.47,419.64 L197.43,418.72 L198.4,417.84 L199.38,417 L200.38,416.2 L201.39,415.44 L202.41,414.73 L203.43,414.06 L204.46,413.43 L205.5,412.85 L206.53,412.32 L207.57,411.84 L208.61,411.41 L209.65,411.03 L210.68,410.69 L211.71,410.41 L212.73,410.18 L213.75,410 L214.75,409.87 L215.75,409.8 L216.73,409.77 L217.69,409.8 L218.65,409.88 L219.58,410.01 L220.5,410.2 L221.39,410.43 L222.27,410.72 L223.12,411.05 L223.95,411.44" stroke="#000" stroke-width="1.6" fill="none" />
<line x1="237.05" y1="418.04" x2="223.95" y2="411.44" stroke="#000" stroke-width="1.5" />
<line x1="203.95" y1="483.56" x2="190.25" y2="476.64" stroke="#000" stroke-width="1.5" />
<ellipse cx="220.5" cy="450.8" rx="23.5" ry="36.7" transform="rotate(26.8 220.5 450.8)" stroke="#000" stroke-width="1.4" fill="#fff" />
<ellipse cx="220.5" cy="450.8" rx="22" ry="35.2" transform="rotate(26.8 220.5 450.8)" stroke="#000" stroke-width="0.8" fill="none" />
<line x1="229.5" y1="419.6" x2="230.7" y2="436" stroke="#000" stroke-width="1.2" />
<line x1="197.4" y1="474.2" x2="213.4" y2="465.6" stroke="#000" stroke-width="1.2" />
<ellipse cx="213.6" cy="447.9" rx="9.3" ry="15" transform="rotate(26.8 213.6 447.9)" stroke="none" stroke-width="0" fill="#fff" />
<path d="M227.26,438.01 L220.01,434.35 L206.84,461.29 L213.74,464.79 Z" stroke="none" stroke-width="0" fill="#fff" />
<path d="M206.84,461.29 L206.52,461.12 L206.21,460.92 L205.92,460.71 L205.64,460.48 L205.37,460.23 L205.11,459.96 L204.86,459.68 L204.63,459.37 L204.41,459.05 L204.2,458.71 L204.01,458.36 L203.83,457.99 L203.67,457.6 L203.52,457.2 L203.39,456.79 L203.27,456.36 L203.17,455.92 L203.08,455.47 L203.01,455.01 L202.96,454.53 L202.92,454.05 L202.9,453.55 L202.89,453.05 L202.9,452.54 L202.93,452.03 L202.97,451.5 L203.03,450.98 L203.1,450.44 L203.19,449.91 L203.3,449.37 L203.42,448.83 L203.55,448.28 L203.7,447.74 L203.87,447.2 L204.05,446.65 L204.24,446.11 L204.45,445.58 L204.68,445.04 L204.91,444.51 L205.16,443.99 L205.42,443.47 L205.7,442.96 L205.98,442.45 L206.28,441.95 L206.59,441.47 L206.91,440.99 L207.23,440.52 L207.57,440.06 L207.92,439.62 L208.28,439.19 L208.64,438.77 L209.01,438.36 L209.39,437.97 L209.77,437.59 L210.16,437.23 L210.56,436.89 L210.96,436.56 L211.36,436.25 L211.77,435.95 L212.18,435.68 L212.59,435.42 L213.01,435.18 L213.42,434.96 L213.84,434.76 L214.25,434.58 L214.66,434.42 L215.08,434.28 L215.49,434.16 L215.89,434.06 L216.3,433.98 L216.7,433.92 L217.09,433.89 L217.48,433.87 L217.86,433.88 L218.24,433.9 L218.61,433.95 L218.97,434.02 L219.33,434.11 L219.67,434.22 L220.01,434.35" stroke="#000" stroke-width="1.5" fill="none" />
<line x1="227.26" y1="438.01" x2="220.01" y2="434.35" stroke="#000" stroke-width="1.5" />
<line x1="213.74" y1="464.79" x2="206.84" y2="461.29" stroke="#000" stroke-width="1.5" />
<ellipse cx="220.5" cy="451.4" rx="9.3" ry="15" transform="rotate(26.8 220.5 451.4)" stroke="#000" stroke-width="0.8" fill="#fff" />
<ellipse cx="221.3" cy="451.8" rx="6.3" ry="10.3" transform="rotate(26.8 221.3 451.8)" stroke="#000" stroke-width="1.5" fill="none" />
<ellipse cx="221.6" cy="452" rx="5" ry="8.8" transform="rotate(26.8 221.6 452)" stroke="#000" stroke-width="0.6" fill="none" />
<line x1="159.5" y1="500.2" x2="173" y2="492.6" stroke="#000" stroke-width="0.7" />
<line x1="137.2" y1="512.6" x2="158.6" y2="500.6" stroke="#000" stroke-width="5.6" />
<line x1="137.6" y1="512.2" x2="158.4" y2="500.5" stroke="#fff" stroke-width="2.6" />
<ellipse cx="137.4" cy="512.6" rx="1.6" ry="2.2" transform="rotate(-30 137.4 512.6)" stroke="#000" stroke-width="0.6" fill="#000" />
<path d="M285.3,528 L285.6,557 L287.5,559.6 L290.5,559.6 L292,557.5 L291.6,528" stroke="#000" stroke-width="1.5" fill="#fff" />
<path d="M243.5,501.5 L251.4,497.2 L260.5,502.2 L256.5,505 L255.5,511.2 L243.5,505.3 Z" stroke="#000" stroke-width="1.5" fill="#fff" />
<line x1="244.5" y1="503.2" x2="255.6" y2="508.8" stroke="#000" stroke-width="0.8" />
<ellipse cx="271.91" cy="514.32" rx="3.6" ry="6.8" transform="rotate(22 271.91 514.32)" stroke="#000" stroke-width="1.2" fill="#fff" />
<path d="M260.55,502.4 L274.46,508.01 L269.36,520.62 L255.45,515 Z" stroke="none" stroke-width="0" fill="#fff" />
<line x1="260.55" y1="502.4" x2="274.46" y2="508.01" stroke="#000" stroke-width="1.5" />
<line x1="255.45" y1="515" x2="269.36" y2="520.62" stroke="#000" stroke-width="1.5" />
<path d="M255.45,515 L255.2,514.88 L254.96,514.72 L254.74,514.52 L254.55,514.28 L254.37,514.01 L254.21,513.71 L254.08,513.37 L253.98,513.01 L253.9,512.62 L253.84,512.2 L253.81,511.77 L253.8,511.31 L253.82,510.84 L253.87,510.36 L253.94,509.87 L254.04,509.37 L254.16,508.86 L254.3,508.35 L254.47,507.85 L254.66,507.35 L254.87,506.86 L255.1,506.38 L255.35,505.92 L255.61,505.47 L255.89,505.04 L256.18,504.64 L256.48,504.26 L256.8,503.9 L257.12,503.58 L257.44,503.29 L257.77,503.03 L258.1,502.81 L258.43,502.62 L258.75,502.47 L259.08,502.36 L259.39,502.29 L259.7,502.25 L259.99,502.26 L260.28,502.31 L260.55,502.4" stroke="#000" stroke-width="1.5" fill="none" />
<ellipse cx="273.58" cy="514.99" rx="2.2" ry="5.6" transform="rotate(22 273.58 514.99)" stroke="#000" stroke-width="1.3" fill="#fff" />
<ellipse cx="275.62" cy="515.82" rx="2.2" ry="5.6" transform="rotate(22 275.62 515.82)" stroke="#000" stroke-width="1.3" fill="#fff" />
<ellipse cx="277.66" cy="516.64" rx="2.2" ry="5.6" transform="rotate(22 277.66 516.64)" stroke="#000" stroke-width="1.3" fill="#fff" />
<path d="M281.35,512.51 L299.75,520.81 L293.45,536.39 L275.05,528.09 Z" stroke="none" stroke-width="0" fill="#fff" />
<path d="M275.05,528.09 L274.79,527.95 L274.54,527.77 L274.32,527.54 L274.12,527.27 L273.94,526.95 L273.8,526.59 L273.68,526.2 L273.58,525.76 L273.52,525.3 L273.48,524.8 L273.48,524.28 L273.5,523.73 L273.55,523.16 L273.63,522.57 L273.74,521.97 L273.88,521.35 L274.04,520.73 L274.23,520.11 L274.44,519.49 L274.68,518.88 L274.93,518.27 L275.21,517.68 L275.51,517.1 L275.82,516.54 L276.15,516 L276.49,515.5 L276.84,515.02 L277.2,514.57 L277.56,514.16 L277.93,513.79 L278.3,513.45 L278.67,513.16 L279.04,512.92 L279.4,512.71 L279.76,512.56 L280.1,512.45 L280.44,512.39 L280.76,512.38 L281.06,512.42 L281.35,512.51" stroke="#000" stroke-width="1.5" fill="none" />
<line x1="281.35" y1="512.51" x2="299.75" y2="520.81" stroke="#000" stroke-width="1.5" />
<line x1="275.05" y1="528.09" x2="293.45" y2="536.39" stroke="#000" stroke-width="1.5" />
<ellipse cx="296.6" cy="528.6" rx="4.2" ry="8.4" transform="rotate(22 296.6 528.6)" stroke="#000" stroke-width="1.6" fill="#fff" />
<path d="M292.02,534.11 L291.98,533.94 L291.94,533.78 L291.9,533.6 L291.87,533.42 L291.85,533.24 L291.83,533.05 L291.82,532.85 L291.81,532.65 L291.8,532.44 L291.8,532.23 L291.81,532.02 L291.82,531.8 L291.84,531.58 L291.86,531.36 L291.88,531.13 L291.92,530.9 L291.95,530.66 L291.99,530.43 L292.04,530.19 L292.09,529.95 L292.15,529.71 L292.21,529.47 L292.27,529.22 L292.34,528.98 L292.41,528.74 L292.49,528.49 L292.58,528.25 L292.66,528.01 L292.75,527.77 L292.85,527.53 L292.95,527.29 L293.05,527.05 L293.15,526.82 L293.26,526.58 L293.38,526.35 L293.49,526.13 L293.61,525.9 L293.73,525.68 L293.86,525.47 L293.99,525.26" stroke="#000" stroke-width="0.8" fill="none" />
<path d="M397.37,310.98 L403.55,307.69 L411.06,321.82 L404.88,325.1 Z" stroke="none" stroke-width="0" fill="#fff" />
<ellipse cx="407.31" cy="314.75" rx="4.4" ry="8" transform="rotate(-28 407.31 314.75)" stroke="#000" stroke-width="1.2" fill="#fff" />
<line x1="397.37" y1="310.98" x2="403.55" y2="307.69" stroke="#000" stroke-width="1.2" />
<line x1="404.88" y1="325.1" x2="411.06" y2="321.82" stroke="#000" stroke-width="1.2" />
<ellipse cx="401.13" cy="318.04" rx="4.4" ry="8" transform="rotate(-28 401.13 318.04)" stroke="#000" stroke-width="1.2" fill="#fff" />
<path d="M355.15,338.07 L399.74,314.36 L403.4,321.25 L358.81,344.96 Z" stroke="none" stroke-width="0" fill="#fff" />
<line x1="355.15" y1="338.07" x2="399.74" y2="314.36" stroke="#000" stroke-width="1.2" />
<line x1="358.81" y1="344.96" x2="403.4" y2="321.25" stroke="#000" stroke-width="1.2" />
<path d="M360.45,335.25 C360.91,335.74 362.64,337.03 363.25,338.18 C363.86,339.33 363.97,341.48 364.11,342.14" stroke="#000" stroke-width="1.25" fill="none" />
<path d="M362.65,334.08 C363.12,334.57 364.85,335.86 365.46,337.01 C366.07,338.15 366.17,340.31 366.32,340.97" stroke="#000" stroke-width="1.25" fill="none" />
<path d="M364.86,332.91 C365.33,333.39 367.05,334.69 367.66,335.83 C368.27,336.98 368.38,339.13 368.52,339.79" stroke="#000" stroke-width="1.25" fill="none" />
<path d="M367.07,331.73 C367.54,332.22 369.26,333.51 369.87,334.66 C370.48,335.81 370.59,337.96 370.73,338.62" stroke="#000" stroke-width="1.25" fill="none" />
<path d="M369.28,330.56 C369.74,331.05 371.47,332.34 372.08,333.49 C372.69,334.63 372.8,336.79 372.94,337.45" stroke="#000" stroke-width="1.25" fill="none" />
<path d="M371.48,329.38 C371.95,329.87 373.68,331.16 374.29,332.31 C374.9,333.46 375,335.61 375.15,336.27" stroke="#000" stroke-width="1.25" fill="none" />
<path d="M373.69,328.21 C374.16,328.7 375.88,329.99 376.49,331.14 C377.1,332.29 377.21,334.44 377.35,335.1" stroke="#000" stroke-width="1.25" fill="none" />
<path d="M375.9,327.04 C376.37,327.53 378.09,328.82 378.7,329.96 C379.31,331.11 379.42,333.26 379.56,333.92" stroke="#000" stroke-width="1.25" fill="none" />
<path d="M378.11,325.86 C378.57,326.35 380.3,327.64 380.91,328.79 C381.52,329.94 381.62,332.09 381.77,332.75" stroke="#000" stroke-width="1.25" fill="none" />
<path d="M380.31,324.69 C380.78,325.18 382.51,326.47 383.12,327.62 C383.73,328.77 383.83,330.92 383.98,331.58" stroke="#000" stroke-width="1.25" fill="none" />
<path d="M382.52,323.52 C382.99,324 384.71,325.3 385.32,326.44 C385.93,327.59 386.04,329.74 386.18,330.4" stroke="#000" stroke-width="1.25" fill="none" />
<line x1="384.01" y1="322.05" x2="388.23" y2="329.99" stroke="#000" stroke-width="0.8" />
<ellipse cx="357.86" cy="341.04" rx="5.6" ry="9.2" transform="rotate(-28 357.86 341.04)" stroke="#000" stroke-width="1.2" fill="#fff" />
<path d="M346.48,336.68 L353.54,332.92 L362.18,349.17 L355.12,352.92 Z" stroke="none" stroke-width="0" fill="#fff" />
<line x1="346.48" y1="336.68" x2="353.54" y2="332.92" stroke="#000" stroke-width="1.2" />
<line x1="355.12" y1="352.92" x2="362.18" y2="349.17" stroke="#000" stroke-width="1.7" />
<ellipse cx="350.8" cy="344.8" rx="5.6" ry="9.2" transform="rotate(-28 350.8 344.8)" stroke="#000" stroke-width="1.7" fill="#fff" />
<ellipse cx="350.2" cy="345.4" rx="2.8" ry="4.4" transform="rotate(-28 350.2 345.4)" stroke="#000" stroke-width="0.8" fill="#fff" />
<ellipse cx="350.2" cy="345.4" rx="1.4" ry="2.2" transform="rotate(-28 350.2 345.4)" stroke="#000" stroke-width="0.8" fill="none" />
<ellipse cx="539.2" cy="305" rx="9.8" ry="12.2" transform="rotate(-25 539.2 305)" stroke="#000" stroke-width="1.5" fill="#fff" />
<path d="M541.98,315.58 L541.43,315.56 L540.88,315.49 L540.32,315.39 L539.77,315.25 L539.21,315.07 L538.66,314.85 L538.11,314.59 L537.57,314.29 L537.05,313.96 L536.53,313.6 L536.03,313.2 L535.54,312.77 L535.07,312.32 L534.62,311.83 L534.19,311.32 L533.78,310.78 L533.4,310.22 L533.04,309.64 L532.71,309.05 L532.41,308.43 L532.13,307.81 L531.89,307.17 L531.67,306.52 L531.49,305.87 L531.34,305.21 L531.23,304.56 L531.14,303.9 L531.1,303.24 L531.08,302.6 L531.1,301.96 L531.15,301.33 L531.24,300.71 L531.36,300.11 L531.51,299.52 L531.7,298.96 L531.92,298.42 L532.17,297.9 L532.44,297.41 L532.75,296.94 L533.09,296.5" stroke="#000" stroke-width="0.8" fill="none" />
<ellipse cx="541" cy="305.4" rx="4.4" ry="6.1" transform="rotate(-25 541 305.4)" stroke="#000" stroke-width="1.4" fill="#fff" />
<line x1="551.5" y1="311.2" x2="586" y2="329.2" stroke="#000" stroke-width="9.6" stroke-linecap="butt"/>
<line x1="551.5" y1="311.2" x2="586" y2="329.2" stroke="#fff" stroke-width="7.4" stroke-linecap="butt"/>
<line x1="551.5" y1="311.2" x2="586" y2="329.2" stroke="#000" stroke-width="7.4" stroke-dasharray="1.7 1.0" stroke-linecap="butt"/>
<path d="M623.3,340.5 L643.2,312.8 L649.8,316.8 L630.5,344.6" stroke="#000" stroke-width="1.4" fill="#fff" />
<path d="M645.2,300.9 L642.7,313.4 L645,316.2 L650,317 L653.8,316 L662.6,308.4 Z" stroke="#000" stroke-width="1.2" fill="#fff" />
<ellipse cx="653.6" cy="304.4" rx="9.6" ry="4.6" transform="rotate(24 653.6 304.4)" stroke="#000" stroke-width="1.2" fill="#fff" />
<path d="M614.5,358.6 L600.6,385.2 L606.6,388.3 L621,361.1" stroke="#000" stroke-width="1.4" fill="#fff" />
<path d="M598.3,384.3 C594.9,385 588.65,391.45 586.9,393.7 C585.15,395.95 586.43,396.37 587.8,397.8 C589.17,399.23 592.32,401.45 595.1,402.3 C597.88,403.15 602.65,403.45 604.5,402.9 C606.35,402.35 605.73,401.23 606.2,399 C606.67,396.77 608.62,391.95 607.3,389.5 C605.98,387.05 601.7,383.6 598.3,384.3 Z" stroke="#000" stroke-width="1.4" fill="#fff" />
<path d="M598.3,384.3 C599,384.72 601,385.93 602.5,386.8 C604,387.67 606.5,389.05 607.3,389.5" stroke="#000" stroke-width="0.8" fill="none" />
<path d="M639.55,348.08 L591.95,323.58 L591.23,323.36 L590.39,323.42 L589.45,323.76 L588.43,324.36 L587.36,325.21 L586.29,326.28 L585.24,327.54 L584.24,328.95 L583.33,330.46 L582.52,332.04 L581.86,333.64 L581.35,335.2 L581.01,336.67 L580.85,338.03 L580.88,339.21 L581.1,340.19 L581.49,340.93 L629.65,365.92 Z" stroke="#000" stroke-width="1.7" fill="#fff" />
<ellipse cx="634.6" cy="357" rx="4.4" ry="10.2" transform="rotate(29 634.6 357)" stroke="#000" stroke-width="1.7" fill="#fff" />
<path d="M630.68,364.59 L630.54,364.37 L630.42,364.11 L630.33,363.82 L630.26,363.5 L630.22,363.14 L630.2,362.76 L630.21,362.35 L630.24,361.92 L630.3,361.46 L630.38,360.98 L630.49,360.49 L630.62,359.98 L630.77,359.46 L630.95,358.92 L631.15,358.38 L631.37,357.84 L631.6,357.29 L631.86,356.74 L632.14,356.19 L632.43,355.65 L632.73,355.12 L633.05,354.6 L633.38,354.09 L633.72,353.59 L634.06,353.12 L634.42,352.66 L634.78,352.23 L635.14,351.82 L635.5,351.44 L635.86,351.09 L636.22,350.77 L636.58,350.48 L636.93,350.22 L637.27,350 L637.61,349.81 L637.93,349.66 L638.24,349.55 L638.54,349.47 L638.82,349.43 L639.09,349.43" stroke="#000" stroke-width="0.8" fill="none" />
<ellipse cx="539.2" cy="497" rx="9.8" ry="12.2" transform="rotate(-25 539.2 497)" stroke="#000" stroke-width="1.5" fill="#fff" />
<path d="M541.98,507.58 L541.43,507.56 L540.88,507.49 L540.32,507.39 L539.77,507.25 L539.21,507.07 L538.66,506.85 L538.11,506.59 L537.57,506.29 L537.05,505.96 L536.53,505.6 L536.03,505.2 L535.54,504.77 L535.07,504.32 L534.62,503.83 L534.19,503.32 L533.78,502.78 L533.4,502.22 L533.04,501.64 L532.71,501.05 L532.41,500.43 L532.13,499.81 L531.89,499.17 L531.67,498.52 L531.49,497.87 L531.34,497.21 L531.23,496.56 L531.14,495.9 L531.1,495.24 L531.08,494.6 L531.1,493.96 L531.15,493.33 L531.24,492.71 L531.36,492.11 L531.51,491.52 L531.7,490.96 L531.92,490.42 L532.17,489.9 L532.44,489.41 L532.75,488.94 L533.09,488.5" stroke="#000" stroke-width="0.8" fill="none" />
<ellipse cx="541" cy="497.4" rx="4.4" ry="6.1" transform="rotate(-25 541 497.4)" stroke="#000" stroke-width="1.4" fill="#fff" />
<line x1="551.5" y1="503.2" x2="586" y2="521.2" stroke="#000" stroke-width="9.6" stroke-linecap="butt"/>
<line x1="551.5" y1="503.2" x2="586" y2="521.2" stroke="#fff" stroke-width="7.4" stroke-linecap="butt"/>
<line x1="551.5" y1="503.2" x2="586" y2="521.2" stroke="#000" stroke-width="7.4" stroke-dasharray="1.7 1.0" stroke-linecap="butt"/>
<path d="M623.3,532.5 L643.2,504.8 L649.8,508.8 L630.5,536.6" stroke="#000" stroke-width="1.4" fill="#fff" />
<path d="M645.2,492.9 L642.7,505.4 L645,508.2 L650,509 L653.8,508 L662.6,500.4 Z" stroke="#000" stroke-width="1.2" fill="#fff" />
<ellipse cx="653.6" cy="496.4" rx="9.6" ry="4.6" transform="rotate(24 653.6 496.4)" stroke="#000" stroke-width="1.2" fill="#fff" />
<path d="M614.5,550.6 L600.6,577.2 L606.6,580.3 L621,553.1" stroke="#000" stroke-width="1.4" fill="#fff" />
<path d="M598.3,576.3 C594.9,577 588.65,583.45 586.9,585.7 C585.15,587.95 586.43,588.37 587.8,589.8 C589.17,591.23 592.32,593.45 595.1,594.3 C597.88,595.15 602.65,595.45 604.5,594.9 C606.35,594.35 605.73,593.23 606.2,591 C606.67,588.77 608.62,583.95 607.3,581.5 C605.98,579.05 601.7,575.6 598.3,576.3 Z" stroke="#000" stroke-width="1.4" fill="#fff" />
<path d="M598.3,576.3 C599,576.72 601,577.93 602.5,578.8 C604,579.67 606.5,581.05 607.3,581.5" stroke="#000" stroke-width="0.8" fill="none" />
<path d="M639.55,540.08 L591.95,515.58 L591.23,515.36 L590.39,515.42 L589.45,515.76 L588.43,516.36 L587.36,517.21 L586.29,518.28 L585.24,519.54 L584.24,520.95 L583.33,522.46 L582.52,524.04 L581.86,525.64 L581.35,527.2 L581.01,528.67 L580.85,530.03 L580.88,531.21 L581.1,532.19 L581.49,532.93 L629.65,557.92 Z" stroke="#000" stroke-width="1.7" fill="#fff" />
<ellipse cx="634.6" cy="549" rx="4.4" ry="10.2" transform="rotate(29 634.6 549)" stroke="#000" stroke-width="1.7" fill="#fff" />
<path d="M630.68,556.59 L630.54,556.37 L630.42,556.11 L630.33,555.82 L630.26,555.5 L630.22,555.14 L630.2,554.76 L630.21,554.35 L630.24,553.92 L630.3,553.46 L630.38,552.98 L630.49,552.49 L630.62,551.98 L630.77,551.46 L630.95,550.92 L631.15,550.38 L631.37,549.84 L631.6,549.29 L631.86,548.74 L632.14,548.19 L632.43,547.65 L632.73,547.12 L633.05,546.6 L633.38,546.09 L633.72,545.59 L634.06,545.12 L634.42,544.66 L634.78,544.23 L635.14,543.82 L635.5,543.44 L635.86,543.09 L636.22,542.77 L636.58,542.48 L636.93,542.22 L637.27,542 L637.61,541.81 L637.93,541.66 L638.24,541.55 L638.54,541.47 L638.82,541.43 L639.09,541.43" stroke="#000" stroke-width="0.8" fill="none" />
<line x1="380" y1="213" x2="530" y2="300" stroke="#000" stroke-width="1" stroke-dasharray="15 3.5 1.5 3.5"/>
<line x1="374" y1="402" x2="530" y2="492" stroke="#000" stroke-width="1" stroke-dasharray="15 3.5 1.5 3.5"/>
<line x1="222" y1="484" x2="244" y2="497" stroke="#000" stroke-width="0.8" stroke-dasharray="15 3.5 1.5 3.5"/>
<line x1="337.5" y1="353.6" x2="346" y2="349.2" stroke="#000" stroke-width="0.8" stroke-dasharray="15 3.5 1.5 3.5"/>
<line x1="57.6" y1="151" x2="57.6" y2="381" stroke="#000" stroke-width="0.9" />
<line x1="92" y1="152" x2="92" y2="323" stroke="#000" stroke-width="0.9" />
<line x1="320" y1="114" x2="320" y2="182" stroke="#000" stroke-width="0.9" />
<path d="M662.75,164 L557.5,164 L355,338" stroke="#000" stroke-width="0.9" fill="none" />
<path d="M662.75,212 L557.5,212 L404,318" stroke="#000" stroke-width="0.9" fill="none" />
<path d="M662.75,258 L557.5,258 L541,293" stroke="#000" stroke-width="0.9" fill="none" />
<line x1="623.5" y1="356" x2="662.25" y2="356" stroke="#000" stroke-width="0.9" />
<path d="M662.25,435 L370,435 L289.5,519" stroke="#000" stroke-width="0.9" fill="none" />
<path d="M662.25,465 L557.25,465 L541,485.25" stroke="#000" stroke-width="0.9" fill="none" />
<line x1="623.5" y1="547" x2="662.25" y2="547" stroke="#000" stroke-width="0.9" />
<path d="M82.5,525.75 L119.5,501.5 L143.75,509.5" stroke="#000" stroke-width="0.9" fill="none" />
<path d="M675.5,153.8 L679.6,153.8 L679.6,165.1 L681.3,165.1 L681.3,168.1 L679.6,168.1 L679.6,172 L675.9,172 L675.9,168.1 L669.7,168.1 L669.7,164.9 Z M676,158.6 L672.9,165.1 L676,165.1 Z" fill="#000" fill-rule="evenodd"/>
<path d="M686.4,153.8 L690,153.8 L690,172 L686.4,172 L686.4,159.6 L683.6,161.3 L683.6,157.6 Q685.6,156.4 686.4,153.8 Z" fill="#000"/>
</svg></body></html>
